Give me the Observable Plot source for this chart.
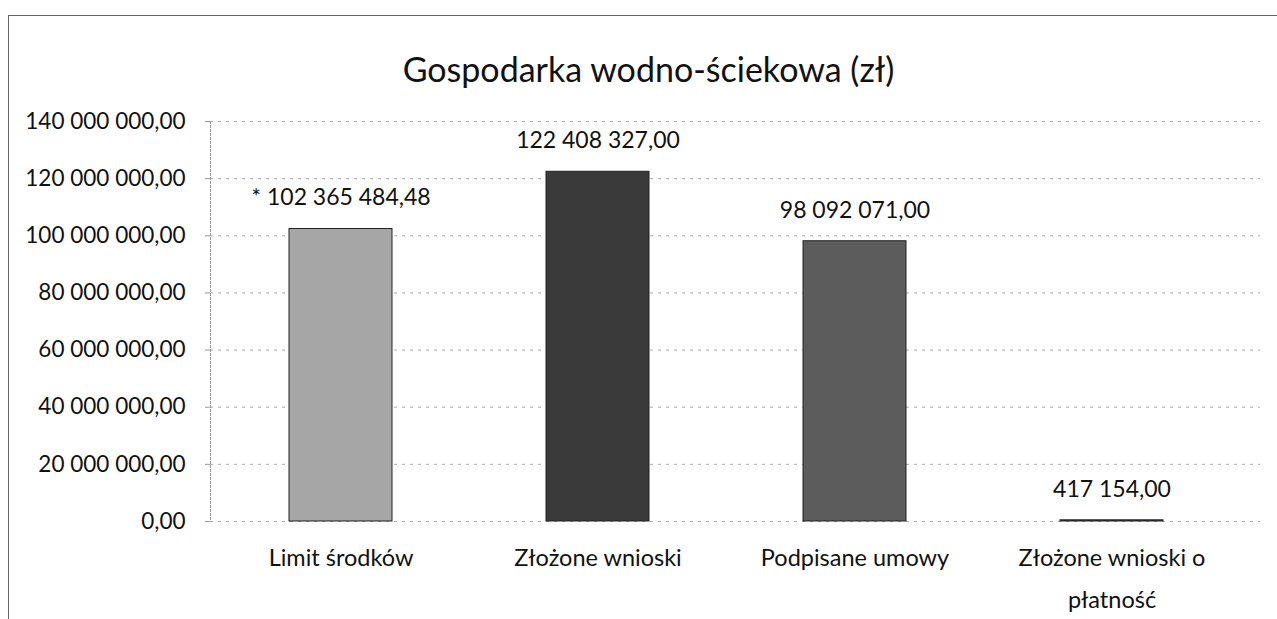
<!DOCTYPE html>
<html>
<head>
<meta charset="utf-8">
<script src="https://cdn.jsdelivr.net/npm/d3@7"></script>
<script src="https://cdn.jsdelivr.net/npm/@observablehq/plot@0.6"></script>
<style>
  html, body { margin: 0; padding: 0; background: #fff; }
  #wrap { position: relative; width: 1277px; height: 619px; overflow: hidden; font-family: Lato, "Open Sans", sans-serif; }
  #border { position: absolute; left: 8px; top: 15px; width: 1400px; height: 800px; border-left: 1.5px solid #666; border-top: 1.5px solid #666; }
  #title { position: relative; height: 100px; box-sizing: border-box; padding-top: 48px; padding-left: 20px; text-align: center; font-size: 34px; line-height: 42px; color: #111; }
  #chart { position: relative; }
</style>
</head>
<body>
<div id="wrap">
  <div id="border"></div>
  <div id="title">Gospodarka wodno-ściekowa (zł)</div>
  <div id="chart"></div>
</div>
<script>
const categories = ["Limit środków", "Złożone wnioski", "Podpisane umowy", "Złożone wnioski o płatność"];
const values = [102365484.48, 122408327.00, 98092071.00, 417154.00];
const labelPrefix = ["* ", "", "", ""];
const barColors = ["#a6a6a6", "#3a3a3a", "#5c5c5c", "#444444"];
const yTicks = [0, 20000000, 40000000, 60000000, 80000000, 100000000, 120000000, 140000000];

const locale = d3.formatLocale({decimal: ",", thousands: "\u00a0", grouping: [3], currency: ["", ""]});
const fmt = locale.format(",.2f");

const data = categories.map((c, i) => ({cat: c, value: values[i], label: labelPrefix[i] + fmt(values[i])}));

const wrapLabel = d => d === "Złożone wnioski o płatność" ? "Złożone wnioski o\npłatność" : d;

const chart = Plot.plot({
  width: 1277,
  height: 519,
  marginTop: 21,
  marginBottom: 98,
  marginLeft: 210,
  marginRight: 17,
  style: {fontFamily: "Lato, 'Open Sans', sans-serif", color: "#222", background: "transparent"},
  x: {domain: categories, range: [212, 1240], paddingInner: 0.6, paddingOuter: 0.3, label: null},
  y: {domain: [0, 140000000], label: null},
  color: {domain: categories, range: barColors},
  marks: [
    Plot.gridY(yTicks, {stroke: "#888", strokeOpacity: 0.7, strokeDasharray: "3,5"}),
    Plot.frame({anchor: "left", stroke: "#999", strokeDasharray: "2,2"}),
    Plot.barY(data, {x: "cat", y: "value", fill: "cat", stroke: "#222", strokeWidth: 1}),
    Plot.text(data, {x: "cat", y: "value", text: "label", dy: -31, fontSize: 23, fill: "#111"}),
    Plot.axisY({ticks: yTicks, tickFormat: fmt, tickSize: 5, tickPadding: 20, fontSize: 22.5, stroke: "#999", fill: "#111", label: null}),
    Plot.axisX({tickSize: 0, tickPadding: 15, tickFormat: wrapLabel, fontSize: 23.5, lineHeight: 1.79, fill: "#111", label: null})
  ]
});
document.getElementById("chart").appendChild(chart);
</script>
</body>
</html>
